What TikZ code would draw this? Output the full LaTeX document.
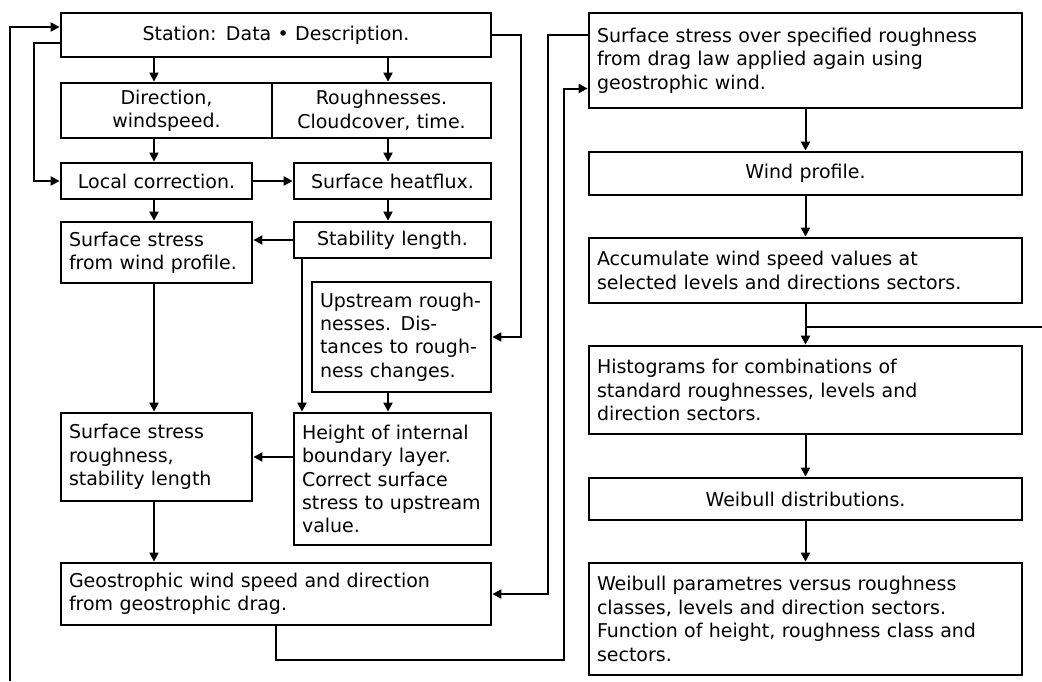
\documentclass[tikz,border=0pt]{standalone}
\usepackage{fontspec}
\setmainfont{DejaVu Sans}
\usetikzlibrary{arrows.meta}

\begin{document}
\begin{tikzpicture}[x=0.5pt, y=-0.5pt,
	every node/.style = {font=\fontsize{9.5}{11.7}\selectfont},
	Box/.style = {draw, line width=1.4pt, inner xsep=4pt, inner ysep=1pt},
	LBox/.style = {Box, align=left},
	CBox/.style = {Box, align=center},
	Line/.style = {-{Triangle[length=4.5pt,width=4.5pt]}, line width=1pt},
	Wire/.style = {line width=1pt}
]
\useasboundingbox (0,0) rectangle (1042,681);
\coordinate (lx) at (154,0);
\coordinate (rx) at (388,0);
\coordinate (hx) at (302,0);
\coordinate (loopin)  at (10,681);
\coordinate (loopout) at (1042,327);
\coordinate (back)    at (564,660);

% left part
\node[CBox, text width=207pt,   minimum height=22pt]   (station) at (276,35)      {Station: Data • Description.};
\node[CBox, text width=97.5pt,  minimum height=27.5pt] (dir)     at (166.5,110.5) {Direction,\\ windspeed.};
\node[CBox, text width=101.5pt, minimum height=27.5pt] (rough)   at (381.5,110.5) {Roughnesses.\\ Cloudcover, time.};
\node[CBox, text width=87.5pt,  minimum height=18pt]   (local)   at (156.5,181)   {Local correction.};
\node[CBox, text width=90.5pt,  minimum height=18pt]   (heat)    at (392.5,181)   {Surface heatflux.};
\node[LBox, text width=87.5pt,  minimum height=30.5pt] (sswind)  at (156.5,252.5) {Surface stress\\ from wind profile.};
\node[CBox, text width=90.5pt,  minimum height=18pt]   (stab)    at (392.5,240)   {Stability length.};
\node[LBox, text width=81.5pt,  minimum height=55pt]   (upstr)   at (401.5,337)   {Upstream rough-\\ nesses. Dis-\\ tances to rough-\\ ness changes.};
\node[LBox, text width=87.5pt,  minimum height=44pt]   (ssrough) at (156.5,457)   {Surface stress\\ roughness,\\ stability length};
\node[LBox, text width=90.5pt,  minimum height=66pt]   (height)  at (392.5,479)   {Height of internal\\ boundary layer.\\ Correct surface\\ stress to upstream\\ value.};
\node[LBox, text width=207pt,   minimum height=31pt]   (geo)     at (276,594)     {Geostrophic wind speed and direction\\ from geostrophic drag.};

% right part
\node[LBox, text width=208.5pt, minimum height=47.5pt] (ssover) at (805.5,60.5)  {Surface stress over specified roughness\\ from drag law applied again using\\ geostrophic wind.};
\node[CBox, text width=208.5pt, minimum height=21.5pt] (wprof)  at (805.5,173.5) {Wind profile.};
\node[LBox, text width=208.5pt, minimum height=32.5pt] (accum)  at (805.5,270.5) {Accumulate wind speed values at\\ selected levels and directions sectors.};
\node[LBox, text width=208.5pt, minimum height=44pt]   (histo)  at (805.5,390)   {Histograms for combinations of\\ standard roughnesses, levels and\\ direction sectors.};
\node[CBox, text width=208.5pt, minimum height=21pt]   (wdist)  at (805.5,499)   {Weibull distributions.};
\node[LBox, text width=208.5pt, minimum height=56pt]   (wpar)   at (805.5,619)   {Weibull parametres versus roughness\\ classes, levels and direction sectors.\\ Function of height, roughness class and\\ sectors.};

% connectors, left part
\draw[Line] (loopin) |- ([yshift=4pt]station.west);
\draw[Line] ([yshift=-4pt]station.west) -- ++(-26,0) |- (local.west);
\draw[Line] (station.south -| lx) -- (dir.north -| lx);
\draw[Line] (station.south -| rx) -- (rough.north -| rx);
\draw[Line] (dir.south -| lx) -- (local.north -| lx);
\draw[Line] (rough.south -| rx) -- (heat.north -| rx);
\draw[Line] (local) -- (heat);
\draw[Line] (local.south -| lx) -- (sswind.north -| lx);
\draw[Line] (heat.south -| rx) -- (stab.north -| rx);
\draw[Line] (stab.west) -- (stab.west -| sswind.east);
\draw[Line] (stab.south -| hx) -- (height.north -| hx);
\draw[Line] (upstr.south -| rx) -- (height.north -| rx);
\draw[Line] (station.east) -- ++(29,0) |- (upstr.east);
\draw[Line] (sswind.south -| lx) -- (ssrough.north -| lx);
\draw[Line] (ssrough.east -| height.west) -- (ssrough.east);
\draw[Line] (ssrough.south -| lx) -- (geo.north -| lx);

% connectors, right part
\draw[Line] ([yshift=13pt]ssover.west) -- ++(-40,0) |- (geo.east);
\draw[Line] (geo.south) |- (back) |- ([yshift=-14pt]ssover.west);
\draw[Line] (ssover) -- (wprof);
\draw[Line] (wprof) -- (accum);
\draw[Line] (accum) -- (histo);
\draw[Line] (histo) -- (wdist);
\draw[Line] (wdist) -- (wpar);
\draw[Wire] (accum.south |- loopout) -- (loopout);
\end{tikzpicture}
\end{document}
